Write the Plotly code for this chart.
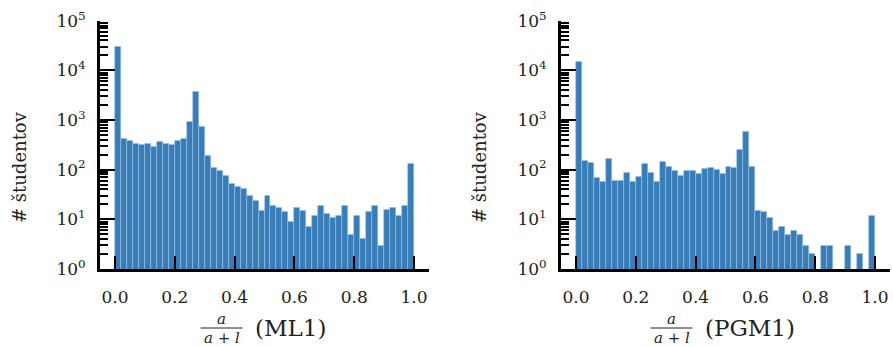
import numpy as np
import plotly.graph_objects as go

# ---- data ----
bin_edges = np.linspace(0.0, 1.0, 51)
ml1_counts = [30300, 430, 386, 341, 316, 336, 288, 369, 331, 316,
              380, 424, 933, 3757, 718, 190, 112, 94, 75, 52,
              45, 42, 30, 24, 15, 30, 19, 17, 14, 9,
              17, 15, 7, 12, 19, 13, 11, 12, 19, 5,
              12, 4, 14, 19, 3, 16, 17, 12, 19, 129]
pgm1_counts = [15100, 152, 139, 69, 58, 167, 60, 59, 87, 57,
               73, 131, 86, 57, 143, 114, 97, 76, 97, 96,
               83, 105, 110, 102, 83, 114, 112, 247, 586, 117,
               15, 14, 11, 6, 7, 5, 6, 5, 3, 2,
               None, 3, 3, None, None, 3, None, 2, None, 12]
panel_labels = ["(ML1)", "(PGM1)"]
x_tick_vals = [0.0, 0.2, 0.4, 0.6, 0.8, 1.0]
x_tick_text = ["0.0", "0.2", "0.4", "0.6", "0.8", "1.0"]
y_tick_vals = [1, 10, 100, 1000, 10000, 100000]
y_tick_text = ["10<sup>0</sup>", "10<sup>1</sup>", "10<sup>2</sup>",
               "10<sup>3</sup>", "10<sup>4</sup>", "10<sup>5</sup>"]
y_title = "# študentov"

W, H = 893, 347
FONT = "DejaVu Serif"
BAR_COLOR = "#377eb8"


def px(x):
    return x / W


def py(y):
    return 1 - y / H


centers = (bin_edges[:-1] + bin_edges[1:]) / 2
widths = np.diff(bin_edges)

fig = go.Figure()
for i, counts in enumerate([ml1_counts, pgm1_counts]):
    sfx = "" if i == 0 else "2"
    fig.add_trace(go.Bar(
        x=centers, y=counts, width=widths,
        marker=dict(color=BAR_COLOR, line=dict(color="#9fc0e0", width=0.6)),
        xaxis="x" + sfx, yaxis="y" + sfx, showlegend=False,
        hoverinfo="skip",
    ))

minor_vals = [k * 10 ** d for d in range(0, 5) for k in range(2, 10)]

domains_x = [[px(100), px(429)], [px(561), px(890)]]
ydom = [py(269), py(20.7)]

for i in range(2):
    sfx = "" if i == 0 else "2"
    fig.update_layout(**{
        "xaxis" + sfx: dict(
            domain=domains_x[i], anchor="y" + sfx, range=[-0.05, 1.05],
            automargin=False,
            tickvals=x_tick_vals, ticktext=x_tick_text,
            ticks="inside", ticklen=13, tickwidth=2, tickcolor="black",
            showline=True, linecolor="black", linewidth=3,
            showgrid=False, zeroline=False,
            tickfont=dict(family=FONT, size=17, color="#222"),
            ticklabelstandoff=11,
        ),
        "yaxis" + sfx: dict(
            domain=ydom, anchor="x" + sfx, type="log", range=[0, 5],
            automargin=False,
            tickvals=y_tick_vals, ticktext=y_tick_text,
            ticks="inside", ticklen=15, tickwidth=2, tickcolor="black",
            showline=True, linecolor="black", linewidth=3,
            showgrid=False, zeroline=False,
            tickfont=dict(family=FONT, size=17, color="#222"),
            ticklabelstandoff=8,
            minor=dict(tickvals=minor_vals, ticks="inside", ticklen=8,
                       tickwidth=1.5, tickcolor="black", showgrid=False),
        ),
    })

annotations = []
shapes = []
# y-axis titles
for xc in [19, 479]:
    annotations.append(dict(
        x=px(xc), y=py(167), xref="paper", yref="paper", text=y_title,
        textangle=-90, showarrow=False,
        font=dict(family=FONT, size=18, color="#222"),
        xanchor="center", yanchor="middle"))

# x-axis titles: fraction a/(a+l) plus label
frac_centers = [221.5, 671.5]
for fc, lab in zip(frac_centers, panel_labels):
    annotations.append(dict(
        x=px(fc), y=py(319), xref="paper", yref="paper", text="<i>a</i>",
        showarrow=False, font=dict(family=FONT, size=15, color="#222"),
        xanchor="center", yanchor="middle"))
    annotations.append(dict(
        x=px(fc), y=py(338), xref="paper", yref="paper",
        text="<i>a</i> + <i>l</i>",
        showarrow=False, font=dict(family=FONT, size=15, color="#222"),
        xanchor="center", yanchor="middle"))
    shapes.append(dict(type="line", xref="paper", yref="paper",
                       x0=px(fc - 21), x1=px(fc + 21), y0=py(328), y1=py(328),
                       line=dict(color="#222", width=1)))
    annotations.append(dict(
        x=px(fc + 31), y=py(328), xref="paper", yref="paper", text=lab,
        showarrow=False, font=dict(family=FONT, size=23, color="#222"),
        xanchor="left", yanchor="middle"))

fig.update_layout(
    width=W, height=H,
    margin=dict(l=0, r=0, t=0, b=0),
    paper_bgcolor="white", plot_bgcolor="white",
    bargap=0,
    annotations=annotations, shapes=shapes,
    font=dict(family=FONT, color="#222"),
)

fig.write_html(
    "out.html",
    config={"displayModeBar": False},
    post_script="document.body.style.margin='0';"
                "document.documentElement.style.overflow='hidden';",
)
